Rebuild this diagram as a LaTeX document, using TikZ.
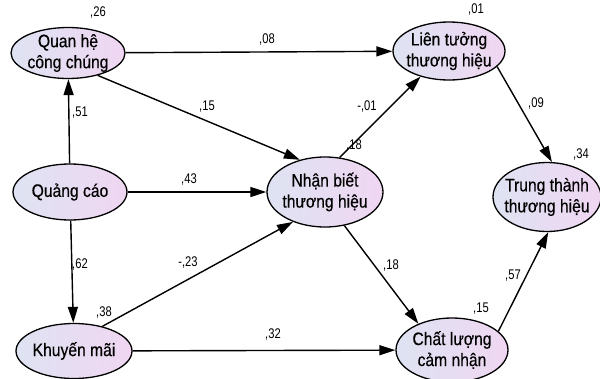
\documentclass[tikz,border=0pt]{standalone}
\usepackage{fontspec}
\usetikzlibrary{shapes.geometric,arrows.meta}
\newfontfamily\nodefont{Liberation Sans}[FakeStretch=0.87,FakeBold=0.4]
\newfontfamily\numfont{Liberation Sans}[FakeStretch=0.8]
\definecolor{shadeL}{RGB}{222,227,242}
\definecolor{shadeR}{RGB}{240,214,242}
\tikzset{
  latent/.style={ellipse, draw=black, line width=1.3pt, inner sep=0pt,
    left color=shadeL, right color=shadeR},
  caption/.style={align=center, font=\nodefont\fontsize{18}{21}\selectfont},
  coef/.style={font=\numfont\fontsize{14}{14}\selectfont, inner sep=0pt},
  path/.style={line width=1.4pt, -{Triangle[length=16pt,width=10pt]}}
}
\begin{document}
\begin{tikzpicture}[x=1pt,y=-1pt]
\useasboundingbox (0,0) rectangle (600,378);

% latent variables
\node[latent, minimum width=114pt, minimum height=51pt,
  label={[caption]center:Quan hệ\\công chúng}] (qh) at (68,53) {};
\node[latent, minimum width=112pt, minimum height=58pt,
  label={[caption]center:Liên tưởng\\thương hiệu}] (lt) at (449,51) {};
\node[latent, minimum width=114pt, minimum height=56pt,
  label={[caption]center:Quảng cáo}] (qc) at (70,192) {};
\node[latent, minimum width=116pt, minimum height=70pt,
  label={[caption]center:Nhận biết\\thương hiệu}] (nb) at (325,192) {};
\node[latent, minimum width=108pt, minimum height=69pt,
  label={[caption]center:Trung thành\\thương hiệu}] (tt) at (547,197) {};
\node[latent, minimum width=116pt, minimum height=55pt,
  label={[caption]center:Khuyến mãi}] (km) at (74,351) {};
\node[latent, minimum width=112pt, minimum height=64pt,
  label={[caption]center:Chất lượng\\cảm nhận}] (cl) at (452,350) {};

% structural paths
\draw[path] (qc) -- (qh);
\draw[path] (qc) -- (km);
\draw[path] (qc) -- (nb);
\draw[path] (qh) -- (lt);
\draw[path] (qh.-37) -- (nb.128);
\draw[path] (km.41) -- (nb.223);
\draw[path] (km) -- (cl);
\draw[path] (nb.67) -- (lt.222);
\draw[path] (nb.-60) -- (cl.142);
\draw[path] (lt.-18) -- (tt.82);
\draw[path] (cl.22) -- (tt.-88);

% squared multiple correlations
\node[coef] (r2qh) at (98,13) {,26};
\node[coef] (r2lt) at (476,10) {,01};
\node[coef] (r2nb) at (354,146) {,18};
\node[coef] (r2tt) at (581,155) {,34};
\node[coef] (r2km) at (104,313) {,38};
\node[coef] (r2cl) at (481,309) {,15};

% path coefficients
\node[coef] (b1) at (267,40) {,08};
\node[coef] (b2) at (207,107) {,15};
\node[coef] (b3) at (367,107) {-,01};
\node[coef] (b4) at (536,104) {,09};
\node[coef] (b5) at (80,113) {,51};
\node[coef] (b6) at (189,180) {,43};
\node[coef] (b7) at (80,265) {,62};
\node[coef] (b8) at (188,263) {-,23};
\node[coef] (b9) at (273,335) {,32};
\node[coef] (b10) at (391,266) {,18};
\node[coef] (b11) at (513,276) {,57};
\end{tikzpicture}
\end{document}
